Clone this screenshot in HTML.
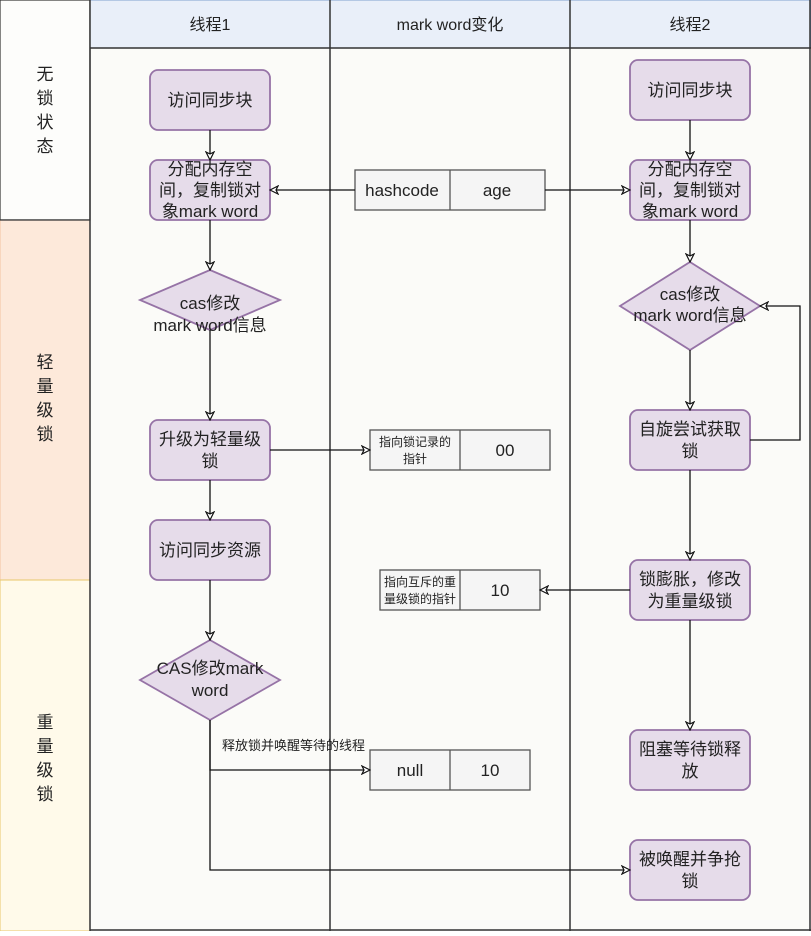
<!DOCTYPE html>
<html><head><meta charset="utf-8"><style>
html,body{margin:0;padding:0;background:#fff;}
svg text{font-family:"Liberation Sans","Noto Sans CJK SC",sans-serif;fill:#222;}
</style></head><body>
<svg width="811" height="931" viewBox="0 0 811 931" xmlns="http://www.w3.org/2000/svg">
<defs>
<marker id="a" markerWidth="10" markerHeight="10" refX="9" refY="5" orient="auto" markerUnits="userSpaceOnUse">
<path d="M1,1 L9,5 L1,9 L3,5 Z" fill="#fff" stroke="#111" stroke-width="1.2"/></marker>
</defs>
<rect x="0" y="0" width="811" height="931" fill="#fbfbf8"/>
<rect x="0" y="0" width="90" height="220" fill="#fdfdfb" stroke="#333" stroke-width="1.2"/>
<rect x="0" y="220" width="90" height="360" fill="#fde9da" stroke="#f2c4a0" stroke-width="1"/>
<rect x="0" y="580" width="90" height="351" fill="#fffaea" stroke="#e8c76a" stroke-width="1"/>
<line x1="0" y1="220" x2="90" y2="220" stroke="#333" stroke-width="1.2"/>
<g font-size="17" text-anchor="middle">
<text x="45" y="80">无</text><text x="45" y="104">锁</text><text x="45" y="128">状</text><text x="45" y="152">态</text>
<text x="45" y="368">轻</text><text x="45" y="392">量</text><text x="45" y="416">级</text><text x="45" y="440">锁</text>
<text x="45" y="728">重</text><text x="45" y="752">量</text><text x="45" y="776">级</text><text x="45" y="800">锁</text>
</g>
<rect x="90" y="0" width="721" height="48" fill="#e9eff9" stroke="#7ea0d0" stroke-width="1"/>
<line x1="90" y1="48" x2="811" y2="48" stroke="#333" stroke-width="1.5"/>
<line x1="90" y1="0" x2="90" y2="931" stroke="#333" stroke-width="1.5"/>
<line x1="330" y1="0" x2="330" y2="931" stroke="#333" stroke-width="1.5"/>
<line x1="570" y1="0" x2="570" y2="931" stroke="#333" stroke-width="1.5"/>
<line x1="810" y1="0" x2="810" y2="931" stroke="#333" stroke-width="1.5"/>
<line x1="90" y1="930" x2="811" y2="930" stroke="#333" stroke-width="1.5"/>
<text x="210" y="30" font-size="16" text-anchor="middle">线程1</text>
<text x="450" y="30" font-size="16" text-anchor="middle">mark word变化</text>
<text x="690" y="30" font-size="16" text-anchor="middle">线程2</text>
<g fill="#e6dcea" stroke="#9673a6" stroke-width="1.8">
<rect x="150" y="70" width="120" height="60" rx="8"/>
<rect x="150" y="160" width="120" height="60" rx="8"/>
<polygon points="210,270 280,300 210,330 140,300"/>
<rect x="150" y="420" width="120" height="60" rx="8"/>
<rect x="150" y="520" width="120" height="60" rx="8"/>
<polygon points="210,640 280,680 210,720 140,680"/>
<rect x="630" y="60" width="120" height="60" rx="8"/>
<rect x="630" y="160" width="120" height="60" rx="8"/>
<polygon points="690,262 760,306 690,350 620,306"/>
<rect x="630" y="410" width="120" height="60" rx="8"/>
<rect x="630" y="560" width="120" height="60" rx="8"/>
<rect x="630" y="730" width="120" height="60" rx="8"/>
<rect x="630" y="840" width="120" height="60" rx="8"/>
</g>
<g fill="#f5f5f5" stroke="#555" stroke-width="1.3">
<rect x="355" y="170" width="190" height="40"/><line x1="450" y1="170" x2="450" y2="210"/>
<rect x="370" y="430" width="180" height="40"/><line x1="460" y1="430" x2="460" y2="470"/>
<rect x="380" y="570" width="160" height="40"/><line x1="460" y1="570" x2="460" y2="610"/>
<rect x="370" y="750" width="160" height="40"/><line x1="450" y1="750" x2="450" y2="790"/>
</g>
<g font-size="17" text-anchor="middle">
<text x="210" y="106">访问同步块</text>
<text x="210" y="175">分配内存空</text><text x="210" y="196">间，复制锁对</text><text x="210" y="217">象mark word</text>
<text x="210" y="309">cas修改</text><text x="210" y="331">mark word信息</text>
<text x="210" y="445">升级为轻量级</text><text x="210" y="467">锁</text>
<text x="210" y="556">访问同步资源</text>
<text x="210" y="674">CAS修改mark</text><text x="210" y="696">word</text>
<text x="690" y="96">访问同步块</text>
<text x="690" y="175">分配内存空</text><text x="690" y="196">间，复制锁对</text><text x="690" y="217">象mark word</text>
<text x="690" y="300">cas修改</text><text x="690" y="321">mark word信息</text>
<text x="690" y="435">自旋尝试获取</text><text x="690" y="457">锁</text>
<text x="690" y="585">锁膨胀，修改</text><text x="690" y="607">为重量级锁</text>
<text x="690" y="755">阻塞等待锁释</text><text x="690" y="777">放</text>
<text x="690" y="865">被唤醒并争抢</text><text x="690" y="887">锁</text>
<text x="402" y="196">hashcode</text><text x="497" y="196">age</text>
<text x="505" y="456">00</text>
<text x="500" y="596">10</text>
<text x="410" y="776">null</text><text x="490" y="776">10</text>
</g>
<g font-size="12" text-anchor="middle">
<text x="415" y="446">指向锁记录的</text><text x="415" y="463">指针</text>
<text x="420" y="586">指向互斥的重</text><text x="420" y="603">量级锁的指针</text>
</g>
<text x="222" y="750" font-size="13">释放锁并唤醒等待的线程</text>
<g stroke="#111" stroke-width="1.3" fill="none" marker-end="url(#a)">
<line x1="210" y1="130" x2="210" y2="160"/>
<line x1="210" y1="220" x2="210" y2="270"/>
<line x1="210" y1="330" x2="210" y2="420"/>
<line x1="210" y1="480" x2="210" y2="520"/>
<line x1="210" y1="580" x2="210" y2="640"/>
<line x1="355" y1="190" x2="270" y2="190"/>
<line x1="545" y1="190" x2="630" y2="190"/>
<line x1="270" y1="450" x2="370" y2="450"/>
<line x1="630" y1="590" x2="540" y2="590"/>
<polyline points="210,720 210,770 370,770"/>
<polyline points="210,720 210,870 630,870"/>
<line x1="690" y1="120" x2="690" y2="160"/>
<line x1="690" y1="220" x2="690" y2="262"/>
<line x1="690" y1="350" x2="690" y2="410"/>
<line x1="690" y1="470" x2="690" y2="560"/>
<line x1="690" y1="620" x2="690" y2="730"/>
<polyline points="750,440 800,440 800,306 760,306"/>
</g>
</svg>
</body></html>
